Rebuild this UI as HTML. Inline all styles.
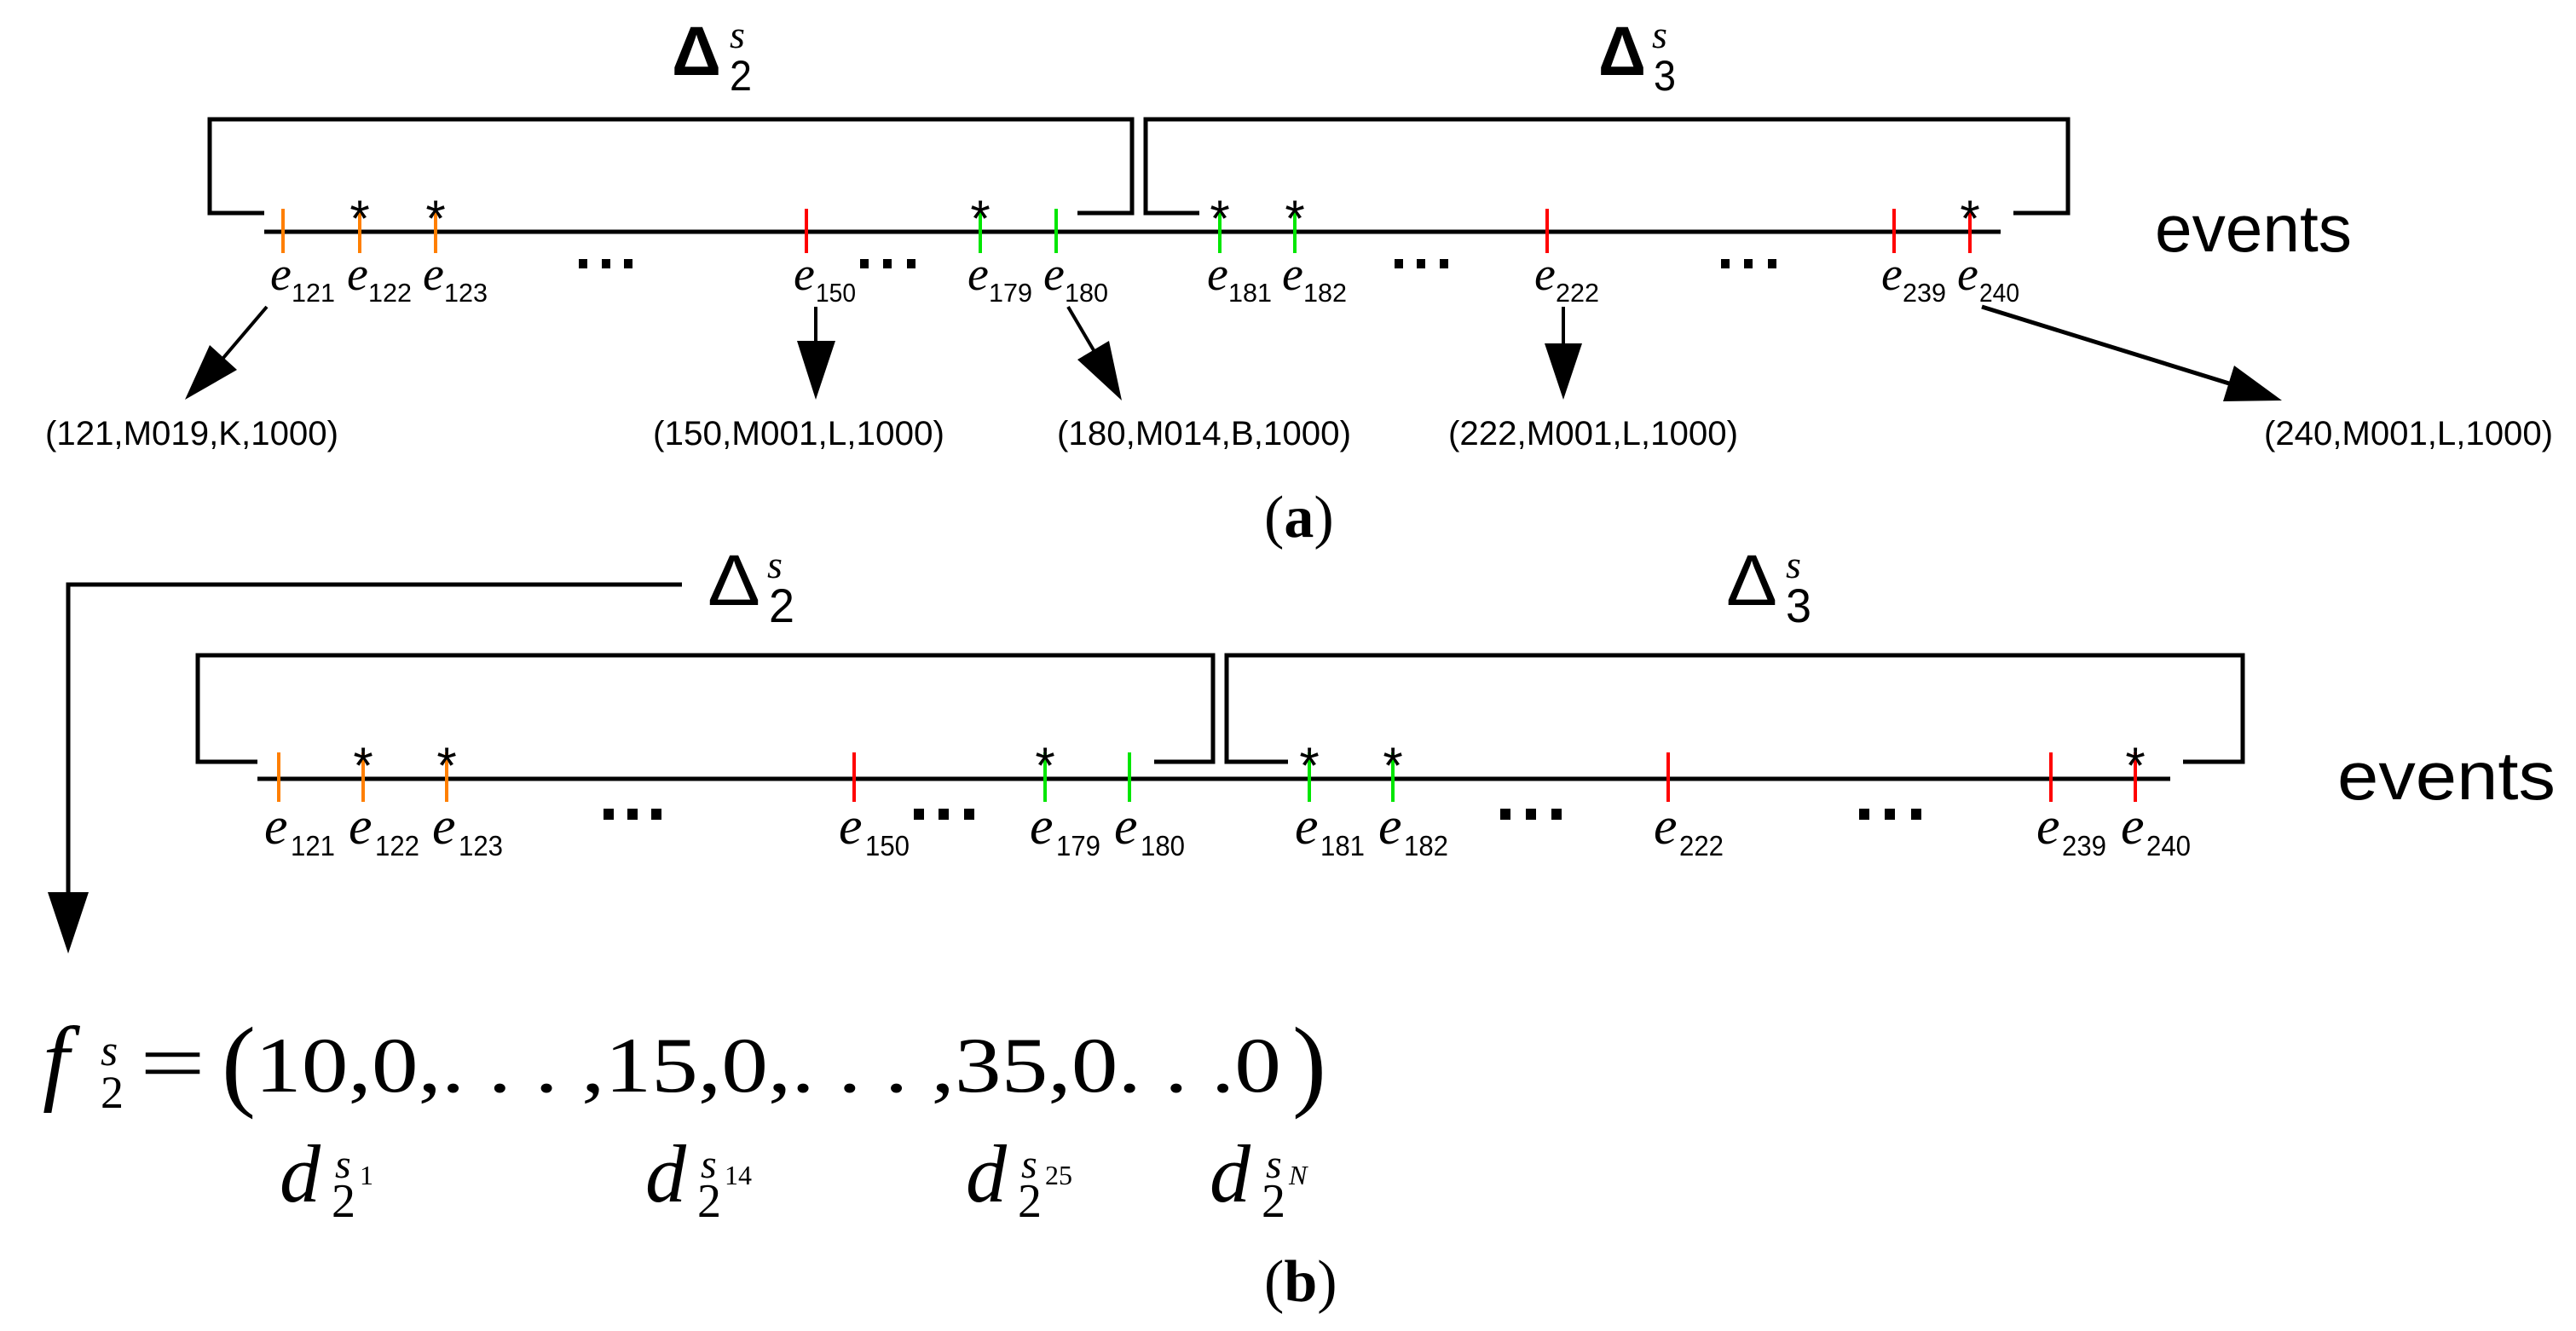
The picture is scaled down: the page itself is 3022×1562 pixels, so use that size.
<!DOCTYPE html>
<html><head><meta charset="utf-8"><style>html,body{margin:0;padding:0;background:#fff}svg{display:block}</style></head>
<body>
<svg width="3022" height="1562" viewBox="0 0 3022 1562" xmlns="http://www.w3.org/2000/svg">
<rect width="3022" height="1562" fill="#fff"/>
<g fill="none" stroke="#000" stroke-width="5">
<polyline points="310,250 246,250 246,140 1328,140 1328,250 1264,250"/>
<polyline points="1407,250 1344,250 1344,140 2426,140 2426,250 2362,250"/>
<line x1="310" y1="272" x2="2347" y2="272"/>
<polyline points="302,894 232,894 232,769 1423,769 1423,894 1354,894"/>
<polyline points="1511,894 1439,894 1439,769 2631,769 2631,894 2561,894"/>
<line x1="302" y1="914" x2="2546" y2="914"/>
<polyline points="800,686 80,686 80,1050"/>
</g>
<polygon points="56,1047 104,1047 80,1119" fill="#000"/>
<g stroke-width="4">
<line x1="332" y1="245" x2="332" y2="297" stroke="#ff7f00"/>
<line x1="422" y1="245" x2="422" y2="297" stroke="#ff7f00"/>
<line x1="511" y1="245" x2="511" y2="297" stroke="#ff7f00"/>
<line x1="946" y1="245" x2="946" y2="297" stroke="#ff0000"/>
<line x1="1150" y1="245" x2="1150" y2="297" stroke="#00e600"/>
<line x1="1239" y1="245" x2="1239" y2="297" stroke="#00e600"/>
<line x1="1431" y1="245" x2="1431" y2="297" stroke="#00e600"/>
<line x1="1519" y1="245" x2="1519" y2="297" stroke="#00e600"/>
<line x1="1815" y1="245" x2="1815" y2="297" stroke="#ff0000"/>
<line x1="2222" y1="245" x2="2222" y2="297" stroke="#ff0000"/>
<line x1="2311" y1="245" x2="2311" y2="297" stroke="#ff0000"/>
<line x1="327" y1="883" x2="327" y2="941" stroke="#ff7f00"/>
<line x1="426" y1="883" x2="426" y2="941" stroke="#ff7f00"/>
<line x1="524" y1="883" x2="524" y2="941" stroke="#ff7f00"/>
<line x1="1002" y1="883" x2="1002" y2="941" stroke="#ff0000"/>
<line x1="1226" y1="883" x2="1226" y2="941" stroke="#00e600"/>
<line x1="1325" y1="883" x2="1325" y2="941" stroke="#00e600"/>
<line x1="1536" y1="883" x2="1536" y2="941" stroke="#00e600"/>
<line x1="1634" y1="883" x2="1634" y2="941" stroke="#00e600"/>
<line x1="1957" y1="883" x2="1957" y2="941" stroke="#ff0000"/>
<line x1="2406" y1="883" x2="2406" y2="941" stroke="#ff0000"/>
<line x1="2505" y1="883" x2="2505" y2="941" stroke="#ff0000"/>
</g>
<g font-family="Liberation Sans, sans-serif" font-size="60" text-anchor="middle" fill="#000">
<text x="422" y="277">*</text><text x="511" y="277">*</text><text x="1150" y="277">*</text>
<text x="1431" y="277">*</text><text x="1519" y="277">*</text><text x="2311" y="277">*</text>
<text x="426" y="919">*</text><text x="524" y="919">*</text><text x="1226" y="919">*</text>
<text x="1536" y="919">*</text><text x="1634" y="919">*</text><text x="2505" y="919">*</text>
</g>
<g fill="#000">
<rect x="679" y="304" width="10" height="11"/><rect x="706" y="304" width="10" height="11"/><rect x="732" y="304" width="10" height="11"/>
<rect x="1009" y="304" width="10" height="11"/><rect x="1036" y="304" width="10" height="11"/><rect x="1064" y="304" width="10" height="11"/>
<rect x="1636" y="304" width="10" height="11"/><rect x="1662" y="304" width="10" height="11"/><rect x="1689" y="304" width="10" height="11"/>
<rect x="2019" y="304" width="10" height="11"/><rect x="2046" y="304" width="10" height="11"/><rect x="2074" y="304" width="10" height="11"/>
<rect x="708" y="949" width="12" height="13"/><rect x="736" y="949" width="12" height="13"/><rect x="764" y="949" width="12" height="13"/>
<rect x="1072" y="949" width="12" height="13"/><rect x="1101" y="949" width="12" height="13"/><rect x="1131" y="949" width="12" height="13"/>
<rect x="1760" y="949" width="12" height="13"/><rect x="1790" y="949" width="12" height="13"/><rect x="1820" y="949" width="12" height="13"/>
<rect x="2181" y="949" width="12" height="13"/><rect x="2211" y="949" width="12" height="13"/><rect x="2242" y="949" width="12" height="13"/>
</g>
<g fill="#000">
<g font-family="Liberation Serif, serif" font-style="italic" font-size="56">
<text x="317" y="340">e</text><text x="407" y="340">e</text><text x="496" y="340">e</text>
<text x="931" y="340">e</text><text x="1135" y="340">e</text><text x="1224" y="340">e</text>
<text x="1416" y="340">e</text><text x="1504" y="340">e</text><text x="1800" y="340">e</text>
<text x="2207" y="340">e</text><text x="2296" y="340">e</text>
</g>
<g font-family="Liberation Sans, sans-serif" font-size="31">
<text x="342" y="354" textLength="51" lengthAdjust="spacingAndGlyphs">121</text>
<text x="432" y="354" textLength="51" lengthAdjust="spacingAndGlyphs">122</text>
<text x="521" y="354" textLength="51" lengthAdjust="spacingAndGlyphs">123</text>
<text x="957" y="354" textLength="47" lengthAdjust="spacingAndGlyphs">150</text>
<text x="1160" y="354" textLength="51" lengthAdjust="spacingAndGlyphs">179</text>
<text x="1249" y="354" textLength="51" lengthAdjust="spacingAndGlyphs">180</text>
<text x="1441" y="354" textLength="51" lengthAdjust="spacingAndGlyphs">181</text>
<text x="1529" y="354" textLength="51" lengthAdjust="spacingAndGlyphs">182</text>
<text x="1825" y="354" textLength="51" lengthAdjust="spacingAndGlyphs">222</text>
<text x="2232" y="354" textLength="51" lengthAdjust="spacingAndGlyphs">239</text>
<text x="2322" y="354" textLength="47" lengthAdjust="spacingAndGlyphs">240</text>
</g>
<g font-family="Liberation Serif, serif" font-style="italic" font-size="62">
<text x="310" y="990">e</text><text x="409" y="990">e</text><text x="507" y="990">e</text>
<text x="984" y="990">e</text><text x="1208" y="990">e</text><text x="1307" y="990">e</text>
<text x="1519" y="990">e</text><text x="1617" y="990">e</text><text x="1940" y="990">e</text>
<text x="2389" y="990">e</text><text x="2488" y="990">e</text>
</g>
<g font-family="Liberation Sans, sans-serif" font-size="33">
<text x="341" y="1004" textLength="52" lengthAdjust="spacingAndGlyphs">121</text>
<text x="440" y="1004" textLength="52" lengthAdjust="spacingAndGlyphs">122</text>
<text x="538" y="1004" textLength="52" lengthAdjust="spacingAndGlyphs">123</text>
<text x="1015" y="1004" textLength="52" lengthAdjust="spacingAndGlyphs">150</text>
<text x="1239" y="1004" textLength="52" lengthAdjust="spacingAndGlyphs">179</text>
<text x="1338" y="1004" textLength="52" lengthAdjust="spacingAndGlyphs">180</text>
<text x="1549" y="1004" textLength="52" lengthAdjust="spacingAndGlyphs">181</text>
<text x="1647" y="1004" textLength="52" lengthAdjust="spacingAndGlyphs">182</text>
<text x="1970" y="1004" textLength="52" lengthAdjust="spacingAndGlyphs">222</text>
<text x="2419" y="1004" textLength="52" lengthAdjust="spacingAndGlyphs">239</text>
<text x="2518" y="1004" textLength="52" lengthAdjust="spacingAndGlyphs">240</text>
</g>
</g>
<g stroke="#000" stroke-width="4" fill="none">
<line x1="313" y1="360" x2="262" y2="420"/>
<line x1="957" y1="360" x2="957" y2="402"/>
<line x1="1253" y1="360" x2="1283" y2="411"/>
<line x1="1834" y1="360" x2="1834" y2="405"/>
<line x1="2325" y1="360" x2="2615" y2="450" stroke-width="5"/>
</g>
<g fill="#000">
<polygon points="246,405 278,434 217,469"/>
<polygon points="935,400 980,400 957,469"/>
<polygon points="1264,422 1301,400 1316,470"/>
<polygon points="1812,403 1856,403 1834,469"/>
<polygon points="2608,471 2621,429 2677,470"/>
</g>
<g font-family="Liberation Sans, sans-serif" font-size="40" fill="#000">
<text x="53" y="522" textLength="344" lengthAdjust="spacingAndGlyphs">(121,M019,K,1000)</text>
<text x="766" y="522" textLength="342" lengthAdjust="spacingAndGlyphs">(150,M001,L,1000)</text>
<text x="1240" y="522" textLength="345" lengthAdjust="spacingAndGlyphs">(180,M014,B,1000)</text>
<text x="1699" y="522" textLength="340" lengthAdjust="spacingAndGlyphs">(222,M001,L,1000)</text>
<text x="2656" y="522" textLength="339" lengthAdjust="spacingAndGlyphs">(240,M001,L,1000)</text>
<text x="2528" y="295" font-size="78" textLength="231" lengthAdjust="spacingAndGlyphs">events</text>
<text x="2742" y="938" font-size="80" textLength="256" lengthAdjust="spacingAndGlyphs">events</text>
</g>
<g fill="#000" font-family="Liberation Sans, sans-serif">
<text x="788" y="88" font-size="82" font-weight="bold" textLength="58" lengthAdjust="spacingAndGlyphs">Δ</text>
<text x="856" y="56" font-size="46" font-style="italic" font-family="Liberation Serif, serif">s</text>
<text x="856" y="106" font-size="50" textLength="26" lengthAdjust="spacingAndGlyphs">2</text>
<text x="1875" y="88" font-size="82" font-weight="bold" textLength="56" lengthAdjust="spacingAndGlyphs">Δ</text>
<text x="1938" y="56" font-size="46" font-style="italic" font-family="Liberation Serif, serif">s</text>
<text x="1940" y="106" font-size="50" textLength="26" lengthAdjust="spacingAndGlyphs">3</text>
<text x="830" y="710" font-size="84" textLength="62" lengthAdjust="spacingAndGlyphs">Δ</text>
<text x="900" y="678" font-size="46" font-style="italic" font-family="Liberation Serif, serif">s</text>
<text x="902" y="730" font-size="56" textLength="30" lengthAdjust="spacingAndGlyphs">2</text>
<text x="2025" y="710" font-size="84" textLength="60" lengthAdjust="spacingAndGlyphs">Δ</text>
<text x="2095" y="678" font-size="46" font-style="italic" font-family="Liberation Serif, serif">s</text>
<text x="2095" y="730" font-size="56" textLength="30" lengthAdjust="spacingAndGlyphs">3</text>
</g>
<g fill="#000" font-family="Liberation Serif, serif" font-size="70">
<text x="1483" y="630">(<tspan font-weight="bold">a</tspan>)</text>
<text x="1483" y="1527">(<tspan font-weight="bold">b</tspan>)</text>
</g>
<g fill="#000" font-family="Liberation Serif, serif">
<text x="50" y="1282" font-size="112" font-style="italic">f</text>
<text x="118" y="1250" font-size="52" font-style="italic">s</text>
<text x="118" y="1300" font-size="54">2</text>
<text x="164" y="1281" font-size="100" textLength="77" lengthAdjust="spacingAndGlyphs">=</text>
<text x="260" y="1288" font-size="120">(</text>
<text x="299" y="1281" font-size="92" textLength="1204" lengthAdjust="spacingAndGlyphs">10,0,. . . ,15,0,. . . ,35,0. . .0</text>
<text x="1516" y="1288" font-size="120">)</text>
<g font-size="96" font-style="italic">
<text x="328" y="1410">d</text><text x="757" y="1410">d</text><text x="1133" y="1410">d</text><text x="1419" y="1410">d</text>
</g>
<g font-size="56">
<text x="389" y="1428">2</text><text x="818" y="1428">2</text><text x="1194" y="1428">2</text><text x="1480" y="1428">2</text>
</g>
<g font-size="48" font-style="italic">
<text x="393" y="1382">s</text><text x="822" y="1382">s</text><text x="1198" y="1382">s</text><text x="1485" y="1382">s</text>
</g>
<g font-size="32">
<text x="422" y="1390">1</text><text x="850" y="1390">14</text><text x="1226" y="1390">25</text><text x="1512" y="1390" font-style="italic">N</text>
</g>
</g>
</svg>
</body></html>
